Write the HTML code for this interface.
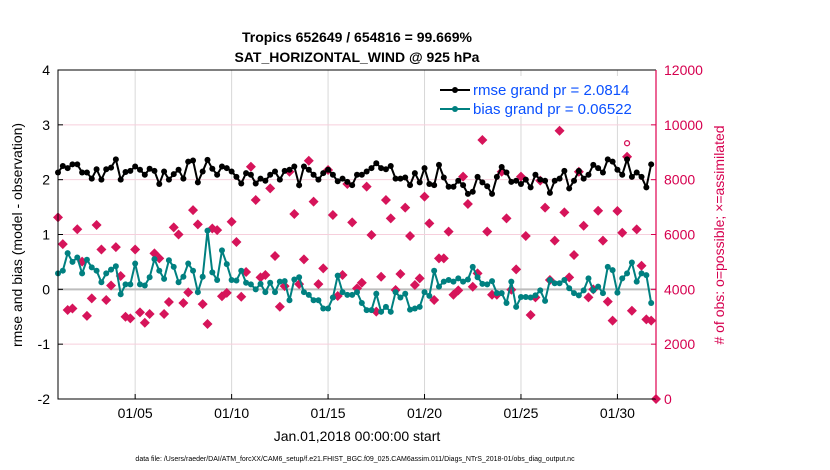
<!DOCTYPE html>
<html><head><meta charset="utf-8"><style>
html,body{margin:0;padding:0;background:#fff;}
svg{display:block;font-family:"Liberation Sans",sans-serif;}
</style></head><body>
<svg id="chart" width="830" height="470" viewBox="0 0 830 470" xmlns="http://www.w3.org/2000/svg">
<rect width="830" height="470" fill="#fff"/>
<text x="357" y="42" text-anchor="middle" font-size="14" font-weight="bold">Tropics 652649 / 654816 = 99.669%</text>
<text x="357" y="62" text-anchor="middle" font-size="14" font-weight="bold">SAT_HORIZONTAL_WIND @ 925 hPa</text>
<g id="grid"></g>
<g id="series"></g>
<g id="axes"></g>
<text transform="translate(22,235) rotate(-90)" text-anchor="middle" font-size="14">rmse and bias (model - observation)</text>
<text transform="translate(724,235) rotate(-90)" text-anchor="middle" font-size="14" fill="#d6004f"># of obs: o=possible; ×=assimilated</text>
<text x="357" y="441" text-anchor="middle" font-size="14">Jan.01,2018 00:00:00 start</text>
<text x="355" y="461" text-anchor="middle" font-size="7">data file: /Users/raeder/DAI/ATM_forcXX/CAM6_setup/f.e21.FHIST_BGC.f09_025.CAM6assim.011/Diags_NTrS_2018-01/obs_diag_output.nc</text>
<g>
<rect x="436" y="76" width="206" height="40" fill="#fff"/>
<line x1="440" y1="90" x2="470" y2="90" stroke="#000" stroke-width="2"/><circle cx="455" cy="90" r="3" fill="#000"/>
<text x="473" y="95" font-size="15" fill="#0a50ff">rmse grand pr = 2.0814</text>
<line x1="440" y1="109" x2="470" y2="109" stroke="#008080" stroke-width="2"/><circle cx="455" cy="109" r="3" fill="#008080"/>
<text x="473" y="114" font-size="15" fill="#0a50ff">bias grand pr = 0.06522</text>
</g>
</svg>
<script>
const rmse=[2.13,2.25,2.21,2.28,2.28,2.13,2.13,2.02,2.19,2.0,2.19,2.22,2.37,2.0,2.14,2.16,2.24,2.18,2.09,2.2,2.16,1.92,2.15,2.0,2.1,2.18,2.02,2.33,2.35,1.95,2.15,2.36,2.2,2.09,2.24,2.21,2.15,2.05,1.93,2.12,
2.09,1.93,2.02,1.98,2.09,2.15,2.0,2.16,2.18,2.24,1.9,2.24,2.18,2.09,2.0,2.12,2.18,2.09,1.97,2.02,1.96,1.9,2.09,2.09,2.15,2.21,2.30,2.21,2.19,2.25,2.02,2.02,2.04,1.9,2.12,1.95,2.21,1.92,1.90,2.27,
2.04,1.87,1.87,1.98,1.9,1.74,1.78,2.05,1.95,1.88,1.74,2.05,2.23,2.13,1.96,1.98,1.92,2.0,1.86,2.09,2.0,1.98,1.76,1.98,2.02,2.16,1.84,1.98,2.16,2.02,2.09,2.27,2.21,2.13,2.37,2.33,2.18,2.09,2.37,2.05,2.13,2.05,1.86,2.28];
const bias=[0.29,0.34,0.66,0.5,0.58,0.29,0.54,0.4,0.34,0.13,0.29,0.36,0.42,-0.09,0.09,0.09,0.47,0.09,0.07,0.22,0.55,0.34,0.19,0.53,0.41,0.13,0.23,0.47,0.34,-0.05,0.23,1.07,0.31,0.17,0.71,0.46,0.17,0.16,0.34,0.12,
0.09,0.0,0.1,-0.05,0.12,-0.05,0.14,0.15,-0.2,0.18,0.22,-0.05,-0.1,-0.2,-0.2,-0.35,-0.35,-0.15,0.25,-0.05,-0.1,-0.1,-0.05,-0.25,-0.38,-0.38,-0.08,-0.41,-0.32,-0.41,-0.05,-0.15,-0.08,-0.37,-0.35,-0.32,-0.05,-0.12,0.34,0.05,
0.14,0.17,0.14,0.2,0.14,0.18,0.41,0.22,0.1,0.09,0.15,-0.07,-0.07,-0.25,0.14,-0.32,-0.14,-0.14,-0.15,-0.11,-0.02,-0.21,0.17,0.11,0.11,0.17,0.02,-0.07,-0.11,-0.02,0.2,-0.02,0.05,-0.07,0.41,0.35,-0.06,0.2,0.29,0.49,0.14,0.29,0.26,-0.25];
const nobs=[6625,5650,3245,3300,6190,5010,3030,3670,6345,5455,3610,4140,5540,4485,3000,2940,5455,3160,2780,3100,5310,5130,3100,3540,6260,6000,3500,3890,6890,6370,3460,2735,6220,6160,3750,3870,6465,5725,3730,4630,
8473,7258,4437,4522,7684,5215,3367,4119,8291,6747,4192,5094,8692,7197,4192,4764,8352,6710,3756,4522,7842,6443,4035,4241,7745,5981,3185,4461,7258,6589,3974,4558,6978,5945,4156,4400,7380,6406,3610,5131,
5131,6103,3804,3962,8109,7112,4095,4582,9446,6103,3804,3804,8291,6589,3987,4728,8109,5945,3064,3707,7964,6978,4340,5775,9786,6808,4437,5252,8291,6321,3707,3999,6868,5775,3550,2857,6856,6066,8838,3221,6188,4862,2906,2857,0];
const possibleIdx=[118];
const possibleVals=[9330];
const leftTicks=[-2,-1,0,1,2,3,4];
const rightTicks=[0,2000,4000,6000,8000,10000,12000];
const dayTicks=[5,10,15,20,25,30];
const dayLabels=["01/05","01/10","01/15","01/20","01/25","01/30"];

const L=58,R=656,T=70,B=399;
const NS="http://www.w3.org/2000/svg";
const xDay=d=>L+(d-1)/31*(R-L);
const xIdx=i=>L+(i*0.25)/31*(R-L);
const yL=v=>B-(v+2)/6*(B-T);
const yR=v=>B-v/12000*(B-T);
function mk(tag,attrs,parent){const e=document.createElementNS(NS,tag);for(const k in attrs)e.setAttribute(k,attrs[k]);parent.appendChild(e);return e;}
const grid=document.getElementById('grid'),ser=document.getElementById('series'),ax=document.getElementById('axes');
dayTicks.forEach((d,i)=>{
  const g=mk('line',{x1:xDay(d),x2:xDay(d),y1:T,y2:B,stroke:'#d8d8d8','stroke-width':1},grid);
  
  
  const t=mk('line',{x1:xDay(d),x2:xDay(d),y1:B,y2:B-5,stroke:'#000'},ax);
  const lb=mk('text',{x:xDay(d),y:418,'text-anchor':'middle','font-size':14},ax);
  lb.textContent=dayLabels[i];
  
  
});
rightTicks.forEach(v=>{
  if(v>0&&v<12000&&v!==4000){
    const g=mk('line',{x1:L,x2:R,y1:yR(v),y2:yR(v),stroke:'#f6cfdc','stroke-width':1},grid);
    
    
  }
  mk('line',{x1:R,x2:R-5,y1:yR(v),y2:yR(v),stroke:'#d6004f'},ax);
  const lb=mk('text',{x:R+8,y:yR(v)+5,'font-size':14,fill:'#d6004f'},ax);
  lb.textContent=v;
  
  
});
const z=mk('line',{x1:L,x2:R,y1:yL(0),y2:yL(0),stroke:'#bdbdbd','stroke-width':2},grid);


leftTicks.forEach(v=>{
  mk('line',{x1:L,x2:L+5,y1:yL(v),y2:yL(v),stroke:'#000'},ax);
  const lb=mk('text',{x:L-8,y:yL(v)+5,'text-anchor':'end','font-size':14},ax);
  lb.textContent=v;
  
  
});
const frame=mk('path',{d:`M${R},${T}H${L}V${B}H${R}`,fill:'none',stroke:'#000','stroke-width':1},ax);


const ra=mk('line',{x1:R,x2:R,y1:T,y2:B,stroke:'#e0004f','stroke-width':1.2},ax);



// obs counts
nobs.forEach((v,i)=>{
  const x=xIdx(i),y=yR(v);
  const d=mk('path',{d:`M${x},${y-5}L${x+5},${y}L${x},${y+5}L${x-5},${y}Z`,fill:'#d6145a'},ser);
  
  
});
possibleIdx.forEach((idx,k)=>{
  const c=mk('circle',{cx:xIdx(idx),cy:yR(possibleVals[k]),r:2.5,fill:'none',stroke:'#d6145a','stroke-width':1.3},ser);
  
  
});
function line(vals,color,name){
  const p=mk('polyline',{points:vals.map((v,i)=>xIdx(i)+','+yL(v)).join(' '),fill:'none',stroke:color,'stroke-width':2},ser);
  
  
  vals.forEach((v,i)=>{
    const c=mk('circle',{cx:xIdx(i),cy:yL(v),r:3,fill:color},ser);
    
    
  });
}
line(bias,'#008080','bias');
line(rmse,'#000000','rmse');
</script>
</body></html>
